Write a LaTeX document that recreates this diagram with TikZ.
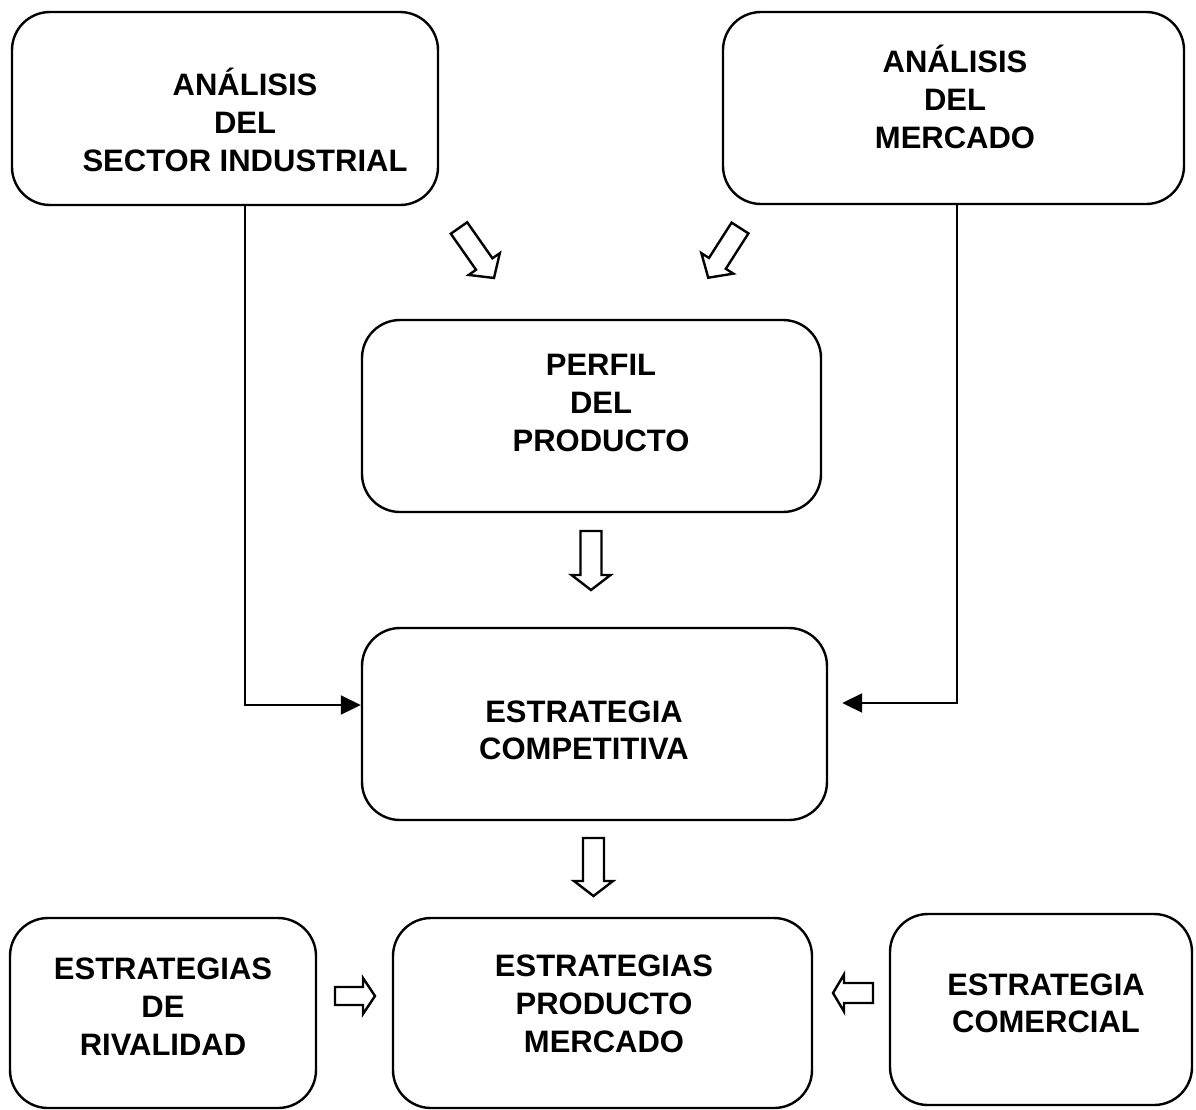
\documentclass[tikz,border=0pt]{standalone}
\usepackage{fontspec}
\setmainfont{Liberation Sans}
\usetikzlibrary{arrows.meta}
\tikzset{
  box/.style={draw, line width=2.4pt, rounded corners=38pt, inner sep=0pt},
  lbl/.style={align=center, font=\fontsize{31}{38}\selectfont\bfseries, inner sep=0pt},
  lbltight/.style={align=center, font=\fontsize{31}{37}\selectfont\bfseries, inner sep=0pt},
  conn/.style={line width=2pt, -{Triangle[length=20pt,width=19pt]}},
  hollow/.style={draw, line width=2.4pt, line join=miter, fill=white}
}
% #1,#2 start, #3 canvas angle, #4 length, #5 shaft half width, #6 head half width, #7 head length
\newcommand\hollowarrow[7]{%
  \draw[hollow, shift={(#1,#2)}, rotate=#3]
    (0,-#5) -- ({#4-#7},-#5) -- ({#4-#7},-#6) -- (#4,0) -- ({#4-#7},#6)
    -- ({#4-#7},#5) -- (0,#5) -- cycle;}
\begin{document}
\begin{tikzpicture}[x=1pt,y=-1pt]
\useasboundingbox (0,0) rectangle (1196,1109);
% boxes
\node[box, minimum width=426pt, minimum height=193pt] (A) at (225,108.5) {};
\node[box, minimum width=461pt, minimum height=192pt] (B) at (953.5,108) {};
\node[box, minimum width=459pt, minimum height=192pt] (C) at (591.5,416) {};
\node[box, minimum width=465pt, minimum height=192pt] (D) at (594.5,724) {};
\node[box, minimum width=306pt, minimum height=190pt] (E) at (163,1013) {};
\node[box, minimum width=419pt, minimum height=190pt] (F) at (602.5,1013) {};
\node[box, minimum width=302pt, minimum height=191pt] (G) at (1041,1009.5) {};
% texts
\node[lbl] (At) at (245,120) {ANÁLISIS\\DEL\\SECTOR INDUSTRIAL};
\node[lbl] (Bt) at (955,97) {ANÁLISIS\\DEL\\MERCADO};
\node[lbl] (Ct) at (601,403) {PERFIL\\DEL\\PRODUCTO};
\node[lbltight] (Dt) at (584,730) {ESTRATEGIA\\COMPETITIVA};
\node[lbl] (Et) at (163,1007) {ESTRATEGIAS\\DE\\RIVALIDAD};
\node[lbl] (Ft) at (604,1004) {ESTRATEGIAS\\PRODUCTO\\MERCADO};
\node[lbltight] (Gt) at (1046,1003) {ESTRATEGIA\\COMERCIAL};
% connectors
\draw[conn] ([xshift=20pt]A.south) |- ([yshift=19pt]D.west);
\draw[conn] ([xshift=3.5pt]B.south) |- ([yshift=21pt,xshift=14pt]D.east);
% hollow block arrows
\hollowarrow{459}{228}{-55}{61}{10}{19}{17}
\hollowarrow{740}{228}{-122.6}{59}{10}{19}{17}
\hollowarrow{591}{531}{-90}{59}{10.5}{19.5}{15}
\hollowarrow{593.5}{838}{-90}{58}{10.5}{19.5}{15}
\hollowarrow{335}{996}{0}{40}{9}{18}{12}
\hollowarrow{873}{993}{180}{40}{10}{18.5}{11}
\end{tikzpicture}
\end{document}
